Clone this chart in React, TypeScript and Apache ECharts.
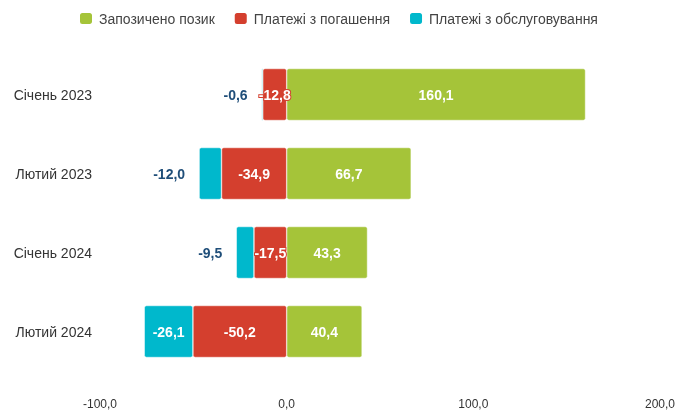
import React, { useEffect, useRef } from "react";
import * as echarts from "echarts";

const categories = ["Січень 2023", "Лютий 2023", "Січень 2024", "Лютий 2024"];
const borrowed = [160.1, 66.7, 43.3, 40.4];
const repayments = [-12.8, -34.9, -17.5, -50.2];
const servicing = [-0.6, -12.0, -9.5, -26.1];
const xTicks = { min: -100, max: 200, interval: 100 };

const fmt = (v: number) => v.toFixed(1).replace(".", ",");

export default function App() {
  const ref = useRef<HTMLDivElement>(null);
  useEffect(() => {
    const chart = echarts.init(ref.current!, null, { renderer: "svg" });
    const labelFont = { fontFamily: "Liberation Sans, Arial, sans-serif", fontWeight: "bold" as const, fontSize: 14 };
    chart.setOption({
      animation: false,
      textStyle: { fontFamily: "Liberation Sans, Arial, sans-serif" },
      legend: {
        top: 6,
        left: 73,
        itemWidth: 14,
        itemHeight: 13,
        itemGap: 18,
        textStyle: { fontSize: 14, color: "#444", padding: [0, 0, 0, 1] },
        data: ["Запозичено позик", "Платежі з погашення", "Платежі з обслуговування"],
      },
      grid: { left: 100, right: 34, top: 55, bottom: 41 },
      xAxis: {
        type: "value",
        min: xTicks.min,
        max: xTicks.max,
        interval: xTicks.interval,
        axisLine: { show: false },
        axisTick: { show: false },
        splitLine: { show: false },
        axisLabel: { formatter: (v: number) => fmt(v), color: "#333", fontSize: 12, margin: 27 },
      },
      yAxis: {
        type: "category",
        inverse: true,
        data: categories,
        axisLine: { show: false },
        axisTick: { show: false },
        axisLabel: { color: "#333", fontSize: 14, margin: 8 },
      },
      series: [
        {
          name: "Запозичено позик",
          type: "bar",
          stack: "total",
          barWidth: 52,
          z: 2,
          itemStyle: { color: "#a5c439", borderColor: "#fff", borderWidth: 0.5, borderRadius: 2 },
          label: { show: true, position: "inside", color: "#fff", ...labelFont, formatter: (p: any) => fmt(p.value) },
          data: borrowed,
        },
        {
          name: "Платежі з погашення",
          type: "bar",
          stack: "total",
          barWidth: 52,
          z: 4,
          itemStyle: { color: "#d43f2e", borderColor: "#fff", borderWidth: 0.5, borderRadius: 2 },
          label: {
            show: true,
            position: "inside",
            color: "#fff",
            textBorderColor: "#d43f2e",
            textBorderWidth: 2,
            ...labelFont,
            formatter: (p: any) => fmt(p.value),
          },
          data: repayments,
        },
        {
          name: "Платежі з обслуговування",
          type: "bar",
          stack: "total",
          barWidth: 52,
          z: 3,
          itemStyle: { color: "#00b8cc", borderColor: "#fff", borderWidth: 0.5, borderRadius: 2 },
          label: { show: true, ...labelFont, formatter: (p: any) => fmt(p.value) },
          data: servicing.map((v) =>
            Math.abs(v) >= 20
              ? { value: v, label: { position: "inside", color: "#fff" } }
              : { value: v, label: { position: "left", distance: 14, color: "#1f4e79" } }
          ),
        },
      ],
    });
    return () => chart.dispose();
  }, []);
  return <div ref={ref} style={{ position: "fixed", left: 0, top: 0, width: 694, height: 412 }} />;
}
